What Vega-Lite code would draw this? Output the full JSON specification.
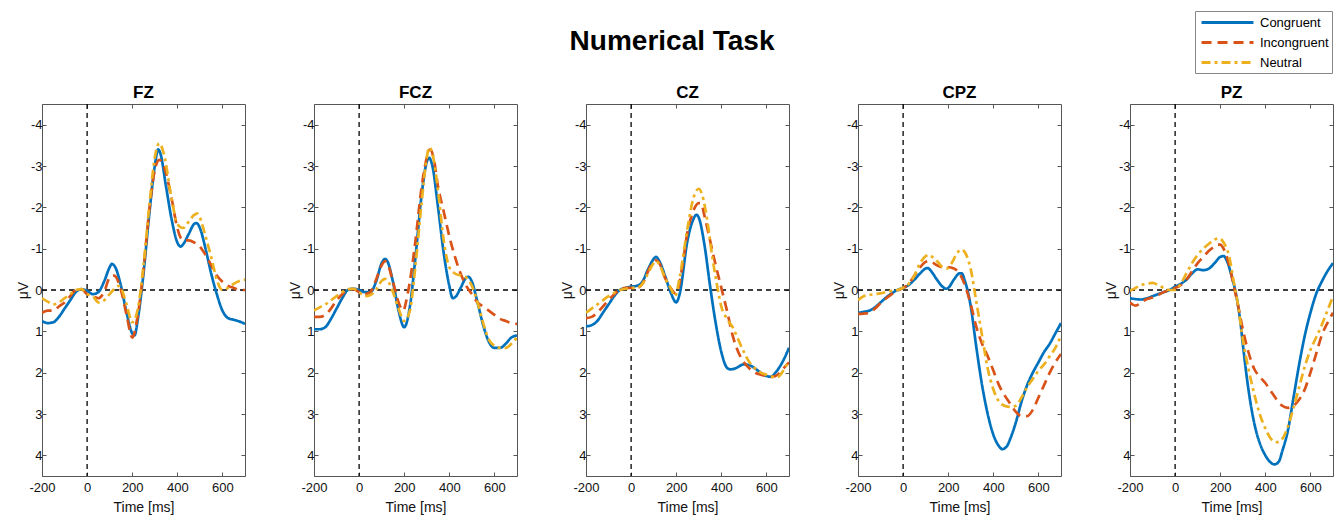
{
  "$schema": "https://vega.github.io/schema/vega-lite/v6.json",
  "padding": {"left": 15, "top": 10, "right": 0, "bottom": 2},
  "autosize": {"type": "pad"},
  "background": "white",
  "title": {"text": "Numerical Task", "fontSize": 28, "font": "Liberation Sans", "fontWeight": "bold", "anchor": "middle", "color": "#000", "offset": -45, "dx": -3},
  "datasets": {
    "erp": [
      {"ch":"FZ","c":"Congruent","t":-200,"v":0.75},{"ch":"FZ","c":"Congruent","t":-175,"v":0.8},{"ch":"FZ","c":"Congruent","t":-150,"v":0.78},{"ch":"FZ","c":"Congruent","t":-125,"v":0.65},{"ch":"FZ","c":"Congruent","t":-100,"v":0.45},{"ch":"FZ","c":"Congruent","t":-75,"v":0.25},{"ch":"FZ","c":"Congruent","t":-50,"v":0.05},{"ch":"FZ","c":"Congruent","t":-25,"v":-0.02},{"ch":"FZ","c":"Congruent","t":0,"v":0.02},{"ch":"FZ","c":"Congruent","t":25,"v":0.1},{"ch":"FZ","c":"Congruent","t":50,"v":0.05},{"ch":"FZ","c":"Congruent","t":75,"v":-0.2},{"ch":"FZ","c":"Congruent","t":100,"v":-0.55},{"ch":"FZ","c":"Congruent","t":110,"v":-0.63},{"ch":"FZ","c":"Congruent","t":125,"v":-0.55},{"ch":"FZ","c":"Congruent","t":150,"v":-0.1},{"ch":"FZ","c":"Congruent","t":175,"v":0.55},{"ch":"FZ","c":"Congruent","t":200,"v":1.05},{"ch":"FZ","c":"Congruent","t":210,"v":1.1},{"ch":"FZ","c":"Congruent","t":225,"v":0.7},{"ch":"FZ","c":"Congruent","t":250,"v":-0.4},{"ch":"FZ","c":"Congruent","t":275,"v":-1.8},{"ch":"FZ","c":"Congruent","t":300,"v":-3.0},{"ch":"FZ","c":"Congruent","t":315,"v":-3.4},{"ch":"FZ","c":"Congruent","t":325,"v":-3.3},{"ch":"FZ","c":"Congruent","t":350,"v":-2.5},{"ch":"FZ","c":"Congruent","t":375,"v":-1.7},{"ch":"FZ","c":"Congruent","t":400,"v":-1.15},{"ch":"FZ","c":"Congruent","t":415,"v":-1.05},{"ch":"FZ","c":"Congruent","t":425,"v":-1.1},{"ch":"FZ","c":"Congruent","t":450,"v":-1.35},{"ch":"FZ","c":"Congruent","t":475,"v":-1.6},{"ch":"FZ","c":"Congruent","t":485,"v":-1.62},{"ch":"FZ","c":"Congruent","t":500,"v":-1.5},{"ch":"FZ","c":"Congruent","t":525,"v":-1.0},{"ch":"FZ","c":"Congruent","t":550,"v":-0.4},{"ch":"FZ","c":"Congruent","t":575,"v":0.1},{"ch":"FZ","c":"Congruent","t":600,"v":0.5},{"ch":"FZ","c":"Congruent","t":625,"v":0.68},{"ch":"FZ","c":"Congruent","t":650,"v":0.72},{"ch":"FZ","c":"Congruent","t":675,"v":0.76},{"ch":"FZ","c":"Congruent","t":700,"v":0.82},
      {"ch":"FZ","c":"Incongruent","t":-200,"v":0.55},{"ch":"FZ","c":"Incongruent","t":-175,"v":0.5},{"ch":"FZ","c":"Incongruent","t":-150,"v":0.5},{"ch":"FZ","c":"Incongruent","t":-125,"v":0.4},{"ch":"FZ","c":"Incongruent","t":-100,"v":0.3},{"ch":"FZ","c":"Incongruent","t":-75,"v":0.15},{"ch":"FZ","c":"Incongruent","t":-50,"v":0.0},{"ch":"FZ","c":"Incongruent","t":-25,"v":-0.02},{"ch":"FZ","c":"Incongruent","t":0,"v":0.1},{"ch":"FZ","c":"Incongruent","t":25,"v":0.15},{"ch":"FZ","c":"Incongruent","t":50,"v":0.2},{"ch":"FZ","c":"Incongruent","t":75,"v":0.05},{"ch":"FZ","c":"Incongruent","t":100,"v":-0.3},{"ch":"FZ","c":"Incongruent","t":120,"v":-0.35},{"ch":"FZ","c":"Incongruent","t":150,"v":0.0},{"ch":"FZ","c":"Incongruent","t":175,"v":0.6},{"ch":"FZ","c":"Incongruent","t":200,"v":1.15},{"ch":"FZ","c":"Incongruent","t":225,"v":0.6},{"ch":"FZ","c":"Incongruent","t":250,"v":-0.5},{"ch":"FZ","c":"Incongruent","t":275,"v":-1.9},{"ch":"FZ","c":"Incongruent","t":300,"v":-2.9},{"ch":"FZ","c":"Incongruent","t":320,"v":-3.15},{"ch":"FZ","c":"Incongruent","t":340,"v":-3.0},{"ch":"FZ","c":"Incongruent","t":375,"v":-2.2},{"ch":"FZ","c":"Incongruent","t":400,"v":-1.5},{"ch":"FZ","c":"Incongruent","t":425,"v":-1.2},{"ch":"FZ","c":"Incongruent","t":450,"v":-1.2},{"ch":"FZ","c":"Incongruent","t":475,"v":-1.15},{"ch":"FZ","c":"Incongruent","t":500,"v":-1.05},{"ch":"FZ","c":"Incongruent","t":525,"v":-0.85},{"ch":"FZ","c":"Incongruent","t":550,"v":-0.6},{"ch":"FZ","c":"Incongruent","t":575,"v":-0.35},{"ch":"FZ","c":"Incongruent","t":600,"v":-0.2},{"ch":"FZ","c":"Incongruent","t":625,"v":-0.1},{"ch":"FZ","c":"Incongruent","t":650,"v":-0.05},{"ch":"FZ","c":"Incongruent","t":675,"v":0.0},{"ch":"FZ","c":"Incongruent","t":700,"v":0.0},
      {"ch":"FZ","c":"Neutral","t":-200,"v":0.2},{"ch":"FZ","c":"Neutral","t":-175,"v":0.28},{"ch":"FZ","c":"Neutral","t":-150,"v":0.35},{"ch":"FZ","c":"Neutral","t":-125,"v":0.3},{"ch":"FZ","c":"Neutral","t":-100,"v":0.2},{"ch":"FZ","c":"Neutral","t":-75,"v":0.1},{"ch":"FZ","c":"Neutral","t":-50,"v":0.0},{"ch":"FZ","c":"Neutral","t":-25,"v":-0.02},{"ch":"FZ","c":"Neutral","t":0,"v":0.1},{"ch":"FZ","c":"Neutral","t":25,"v":0.15},{"ch":"FZ","c":"Neutral","t":50,"v":0.3},{"ch":"FZ","c":"Neutral","t":75,"v":0.25},{"ch":"FZ","c":"Neutral","t":100,"v":0.1},{"ch":"FZ","c":"Neutral","t":125,"v":-0.05},{"ch":"FZ","c":"Neutral","t":140,"v":-0.1},{"ch":"FZ","c":"Neutral","t":150,"v":-0.05},{"ch":"FZ","c":"Neutral","t":175,"v":0.35},{"ch":"FZ","c":"Neutral","t":200,"v":0.78},{"ch":"FZ","c":"Neutral","t":225,"v":0.45},{"ch":"FZ","c":"Neutral","t":250,"v":-0.6},{"ch":"FZ","c":"Neutral","t":275,"v":-2.0},{"ch":"FZ","c":"Neutral","t":300,"v":-3.2},{"ch":"FZ","c":"Neutral","t":320,"v":-3.55},{"ch":"FZ","c":"Neutral","t":340,"v":-3.3},{"ch":"FZ","c":"Neutral","t":375,"v":-2.2},{"ch":"FZ","c":"Neutral","t":400,"v":-1.6},{"ch":"FZ","c":"Neutral","t":425,"v":-1.5},{"ch":"FZ","c":"Neutral","t":450,"v":-1.65},{"ch":"FZ","c":"Neutral","t":475,"v":-1.82},{"ch":"FZ","c":"Neutral","t":490,"v":-1.85},{"ch":"FZ","c":"Neutral","t":500,"v":-1.75},{"ch":"FZ","c":"Neutral","t":525,"v":-1.3},{"ch":"FZ","c":"Neutral","t":550,"v":-0.8},{"ch":"FZ","c":"Neutral","t":575,"v":-0.25},{"ch":"FZ","c":"Neutral","t":600,"v":0.0},{"ch":"FZ","c":"Neutral","t":625,"v":-0.05},{"ch":"FZ","c":"Neutral","t":650,"v":-0.15},{"ch":"FZ","c":"Neutral","t":675,"v":-0.22},{"ch":"FZ","c":"Neutral","t":700,"v":-0.25},
      {"ch":"FCZ","c":"Congruent","t":-200,"v":0.95},{"ch":"FCZ","c":"Congruent","t":-175,"v":0.95},{"ch":"FCZ","c":"Congruent","t":-150,"v":0.9},{"ch":"FCZ","c":"Congruent","t":-125,"v":0.7},{"ch":"FCZ","c":"Congruent","t":-100,"v":0.45},{"ch":"FCZ","c":"Congruent","t":-75,"v":0.2},{"ch":"FCZ","c":"Congruent","t":-50,"v":0.0},{"ch":"FCZ","c":"Congruent","t":-25,"v":-0.03},{"ch":"FCZ","c":"Congruent","t":0,"v":0.0},{"ch":"FCZ","c":"Congruent","t":25,"v":0.05},{"ch":"FCZ","c":"Congruent","t":50,"v":0.05},{"ch":"FCZ","c":"Congruent","t":75,"v":-0.2},{"ch":"FCZ","c":"Congruent","t":100,"v":-0.65},{"ch":"FCZ","c":"Congruent","t":115,"v":-0.75},{"ch":"FCZ","c":"Congruent","t":125,"v":-0.7},{"ch":"FCZ","c":"Congruent","t":150,"v":-0.2},{"ch":"FCZ","c":"Congruent","t":175,"v":0.5},{"ch":"FCZ","c":"Congruent","t":200,"v":0.9},{"ch":"FCZ","c":"Congruent","t":225,"v":0.4},{"ch":"FCZ","c":"Congruent","t":250,"v":-0.8},{"ch":"FCZ","c":"Congruent","t":275,"v":-2.2},{"ch":"FCZ","c":"Congruent","t":300,"v":-3.1},{"ch":"FCZ","c":"Congruent","t":310,"v":-3.2},{"ch":"FCZ","c":"Congruent","t":325,"v":-3.0},{"ch":"FCZ","c":"Congruent","t":350,"v":-2.0},{"ch":"FCZ","c":"Congruent","t":375,"v":-0.9},{"ch":"FCZ","c":"Congruent","t":400,"v":-0.1},{"ch":"FCZ","c":"Congruent","t":415,"v":0.2},{"ch":"FCZ","c":"Congruent","t":430,"v":0.15},{"ch":"FCZ","c":"Congruent","t":450,"v":-0.05},{"ch":"FCZ","c":"Congruent","t":475,"v":-0.3},{"ch":"FCZ","c":"Congruent","t":485,"v":-0.32},{"ch":"FCZ","c":"Congruent","t":500,"v":-0.2},{"ch":"FCZ","c":"Congruent","t":525,"v":0.3},{"ch":"FCZ","c":"Congruent","t":550,"v":0.85},{"ch":"FCZ","c":"Congruent","t":575,"v":1.25},{"ch":"FCZ","c":"Congruent","t":600,"v":1.4},{"ch":"FCZ","c":"Congruent","t":625,"v":1.4},{"ch":"FCZ","c":"Congruent","t":650,"v":1.3},{"ch":"FCZ","c":"Congruent","t":675,"v":1.15},{"ch":"FCZ","c":"Congruent","t":700,"v":1.1},
      {"ch":"FCZ","c":"Incongruent","t":-200,"v":0.65},{"ch":"FCZ","c":"Incongruent","t":-175,"v":0.65},{"ch":"FCZ","c":"Incongruent","t":-150,"v":0.6},{"ch":"FCZ","c":"Incongruent","t":-125,"v":0.45},{"ch":"FCZ","c":"Incongruent","t":-100,"v":0.25},{"ch":"FCZ","c":"Incongruent","t":-75,"v":0.1},{"ch":"FCZ","c":"Incongruent","t":-50,"v":0.0},{"ch":"FCZ","c":"Incongruent","t":-25,"v":-0.02},{"ch":"FCZ","c":"Incongruent","t":0,"v":0.05},{"ch":"FCZ","c":"Incongruent","t":25,"v":0.1},{"ch":"FCZ","c":"Incongruent","t":50,"v":0.05},{"ch":"FCZ","c":"Incongruent","t":75,"v":-0.25},{"ch":"FCZ","c":"Incongruent","t":100,"v":-0.6},{"ch":"FCZ","c":"Incongruent","t":115,"v":-0.7},{"ch":"FCZ","c":"Incongruent","t":125,"v":-0.65},{"ch":"FCZ","c":"Incongruent","t":150,"v":-0.2},{"ch":"FCZ","c":"Incongruent","t":175,"v":0.3},{"ch":"FCZ","c":"Incongruent","t":195,"v":0.5},{"ch":"FCZ","c":"Incongruent","t":215,"v":0.1},{"ch":"FCZ","c":"Incongruent","t":250,"v":-1.2},{"ch":"FCZ","c":"Incongruent","t":275,"v":-2.4},{"ch":"FCZ","c":"Incongruent","t":300,"v":-3.2},{"ch":"FCZ","c":"Incongruent","t":315,"v":-3.4},{"ch":"FCZ","c":"Incongruent","t":330,"v":-3.2},{"ch":"FCZ","c":"Incongruent","t":350,"v":-2.5},{"ch":"FCZ","c":"Incongruent","t":375,"v":-1.9},{"ch":"FCZ","c":"Incongruent","t":400,"v":-1.3},{"ch":"FCZ","c":"Incongruent","t":425,"v":-0.8},{"ch":"FCZ","c":"Incongruent","t":450,"v":-0.4},{"ch":"FCZ","c":"Incongruent","t":475,"v":-0.1},{"ch":"FCZ","c":"Incongruent","t":500,"v":0.1},{"ch":"FCZ","c":"Incongruent","t":525,"v":0.3},{"ch":"FCZ","c":"Incongruent","t":550,"v":0.4},{"ch":"FCZ","c":"Incongruent","t":575,"v":0.5},{"ch":"FCZ","c":"Incongruent","t":600,"v":0.6},{"ch":"FCZ","c":"Incongruent","t":625,"v":0.7},{"ch":"FCZ","c":"Incongruent","t":650,"v":0.75},{"ch":"FCZ","c":"Incongruent","t":675,"v":0.8},{"ch":"FCZ","c":"Incongruent","t":700,"v":0.82},
      {"ch":"FCZ","c":"Neutral","t":-200,"v":0.5},{"ch":"FCZ","c":"Neutral","t":-175,"v":0.42},{"ch":"FCZ","c":"Neutral","t":-150,"v":0.35},{"ch":"FCZ","c":"Neutral","t":-125,"v":0.25},{"ch":"FCZ","c":"Neutral","t":-100,"v":0.15},{"ch":"FCZ","c":"Neutral","t":-75,"v":0.05},{"ch":"FCZ","c":"Neutral","t":-50,"v":-0.02},{"ch":"FCZ","c":"Neutral","t":-25,"v":-0.03},{"ch":"FCZ","c":"Neutral","t":0,"v":0.05},{"ch":"FCZ","c":"Neutral","t":25,"v":0.15},{"ch":"FCZ","c":"Neutral","t":50,"v":0.12},{"ch":"FCZ","c":"Neutral","t":75,"v":0.0},{"ch":"FCZ","c":"Neutral","t":100,"v":-0.22},{"ch":"FCZ","c":"Neutral","t":115,"v":-0.27},{"ch":"FCZ","c":"Neutral","t":130,"v":-0.2},{"ch":"FCZ","c":"Neutral","t":150,"v":0.05},{"ch":"FCZ","c":"Neutral","t":175,"v":0.45},{"ch":"FCZ","c":"Neutral","t":200,"v":0.75},{"ch":"FCZ","c":"Neutral","t":225,"v":0.5},{"ch":"FCZ","c":"Neutral","t":250,"v":-0.6},{"ch":"FCZ","c":"Neutral","t":275,"v":-2.0},{"ch":"FCZ","c":"Neutral","t":300,"v":-3.2},{"ch":"FCZ","c":"Neutral","t":310,"v":-3.45},{"ch":"FCZ","c":"Neutral","t":325,"v":-3.3},{"ch":"FCZ","c":"Neutral","t":350,"v":-2.4},{"ch":"FCZ","c":"Neutral","t":375,"v":-1.2},{"ch":"FCZ","c":"Neutral","t":400,"v":-0.55},{"ch":"FCZ","c":"Neutral","t":425,"v":-0.4},{"ch":"FCZ","c":"Neutral","t":450,"v":-0.35},{"ch":"FCZ","c":"Neutral","t":475,"v":-0.3},{"ch":"FCZ","c":"Neutral","t":500,"v":-0.1},{"ch":"FCZ","c":"Neutral","t":525,"v":0.3},{"ch":"FCZ","c":"Neutral","t":550,"v":0.8},{"ch":"FCZ","c":"Neutral","t":575,"v":1.2},{"ch":"FCZ","c":"Neutral","t":600,"v":1.35},{"ch":"FCZ","c":"Neutral","t":625,"v":1.4},{"ch":"FCZ","c":"Neutral","t":650,"v":1.4},{"ch":"FCZ","c":"Neutral","t":675,"v":1.3},{"ch":"FCZ","c":"Neutral","t":700,"v":1.15},
      {"ch":"CZ","c":"Congruent","t":-200,"v":0.88},{"ch":"CZ","c":"Congruent","t":-175,"v":0.85},{"ch":"CZ","c":"Congruent","t":-150,"v":0.75},{"ch":"CZ","c":"Congruent","t":-125,"v":0.55},{"ch":"CZ","c":"Congruent","t":-100,"v":0.35},{"ch":"CZ","c":"Congruent","t":-75,"v":0.15},{"ch":"CZ","c":"Congruent","t":-50,"v":0.0},{"ch":"CZ","c":"Congruent","t":-25,"v":-0.05},{"ch":"CZ","c":"Congruent","t":0,"v":-0.08},{"ch":"CZ","c":"Congruent","t":25,"v":-0.1},{"ch":"CZ","c":"Congruent","t":50,"v":-0.2},{"ch":"CZ","c":"Congruent","t":75,"v":-0.5},{"ch":"CZ","c":"Congruent","t":100,"v":-0.75},{"ch":"CZ","c":"Congruent","t":110,"v":-0.8},{"ch":"CZ","c":"Congruent","t":125,"v":-0.7},{"ch":"CZ","c":"Congruent","t":150,"v":-0.35},{"ch":"CZ","c":"Congruent","t":175,"v":0.05},{"ch":"CZ","c":"Congruent","t":200,"v":0.3},{"ch":"CZ","c":"Congruent","t":215,"v":0.1},{"ch":"CZ","c":"Congruent","t":250,"v":-1.2},{"ch":"CZ","c":"Congruent","t":275,"v":-1.7},{"ch":"CZ","c":"Congruent","t":290,"v":-1.82},{"ch":"CZ","c":"Congruent","t":300,"v":-1.75},{"ch":"CZ","c":"Congruent","t":325,"v":-1.1},{"ch":"CZ","c":"Congruent","t":350,"v":-0.1},{"ch":"CZ","c":"Congruent","t":375,"v":0.8},{"ch":"CZ","c":"Congruent","t":400,"v":1.5},{"ch":"CZ","c":"Congruent","t":425,"v":1.88},{"ch":"CZ","c":"Congruent","t":440,"v":1.92},{"ch":"CZ","c":"Congruent","t":460,"v":1.9},{"ch":"CZ","c":"Congruent","t":500,"v":1.8},{"ch":"CZ","c":"Congruent","t":525,"v":1.82},{"ch":"CZ","c":"Congruent","t":550,"v":1.9},{"ch":"CZ","c":"Congruent","t":575,"v":2.0},{"ch":"CZ","c":"Congruent","t":600,"v":2.08},{"ch":"CZ","c":"Congruent","t":620,"v":2.1},{"ch":"CZ","c":"Congruent","t":640,"v":2.0},{"ch":"CZ","c":"Congruent","t":675,"v":1.7},{"ch":"CZ","c":"Congruent","t":700,"v":1.4},
      {"ch":"CZ","c":"Incongruent","t":-200,"v":0.68},{"ch":"CZ","c":"Incongruent","t":-175,"v":0.65},{"ch":"CZ","c":"Incongruent","t":-150,"v":0.55},{"ch":"CZ","c":"Incongruent","t":-125,"v":0.4},{"ch":"CZ","c":"Incongruent","t":-100,"v":0.25},{"ch":"CZ","c":"Incongruent","t":-75,"v":0.1},{"ch":"CZ","c":"Incongruent","t":-50,"v":0.0},{"ch":"CZ","c":"Incongruent","t":-25,"v":-0.05},{"ch":"CZ","c":"Incongruent","t":0,"v":-0.05},{"ch":"CZ","c":"Incongruent","t":25,"v":-0.05},{"ch":"CZ","c":"Incongruent","t":50,"v":-0.15},{"ch":"CZ","c":"Incongruent","t":75,"v":-0.45},{"ch":"CZ","c":"Incongruent","t":100,"v":-0.7},{"ch":"CZ","c":"Incongruent","t":110,"v":-0.72},{"ch":"CZ","c":"Incongruent","t":125,"v":-0.65},{"ch":"CZ","c":"Incongruent","t":150,"v":-0.3},{"ch":"CZ","c":"Incongruent","t":175,"v":-0.05},{"ch":"CZ","c":"Incongruent","t":200,"v":0.1},{"ch":"CZ","c":"Incongruent","t":225,"v":-0.5},{"ch":"CZ","c":"Incongruent","t":250,"v":-1.4},{"ch":"CZ","c":"Incongruent","t":275,"v":-1.9},{"ch":"CZ","c":"Incongruent","t":300,"v":-2.1},{"ch":"CZ","c":"Incongruent","t":310,"v":-2.1},{"ch":"CZ","c":"Incongruent","t":325,"v":-1.8},{"ch":"CZ","c":"Incongruent","t":350,"v":-1.2},{"ch":"CZ","c":"Incongruent","t":375,"v":-0.6},{"ch":"CZ","c":"Incongruent","t":400,"v":-0.05},{"ch":"CZ","c":"Incongruent","t":425,"v":0.5},{"ch":"CZ","c":"Incongruent","t":450,"v":1.1},{"ch":"CZ","c":"Incongruent","t":475,"v":1.5},{"ch":"CZ","c":"Incongruent","t":500,"v":1.75},{"ch":"CZ","c":"Incongruent","t":525,"v":1.9},{"ch":"CZ","c":"Incongruent","t":550,"v":2.0},{"ch":"CZ","c":"Incongruent","t":575,"v":2.05},{"ch":"CZ","c":"Incongruent","t":600,"v":2.08},{"ch":"CZ","c":"Incongruent","t":625,"v":2.1},{"ch":"CZ","c":"Incongruent","t":650,"v":2.05},{"ch":"CZ","c":"Incongruent","t":675,"v":1.9},{"ch":"CZ","c":"Incongruent","t":700,"v":1.75},
      {"ch":"CZ","c":"Neutral","t":-200,"v":0.55},{"ch":"CZ","c":"Neutral","t":-175,"v":0.45},{"ch":"CZ","c":"Neutral","t":-150,"v":0.35},{"ch":"CZ","c":"Neutral","t":-125,"v":0.25},{"ch":"CZ","c":"Neutral","t":-100,"v":0.15},{"ch":"CZ","c":"Neutral","t":-75,"v":0.07},{"ch":"CZ","c":"Neutral","t":-50,"v":0.0},{"ch":"CZ","c":"Neutral","t":-25,"v":-0.03},{"ch":"CZ","c":"Neutral","t":0,"v":-0.05},{"ch":"CZ","c":"Neutral","t":25,"v":-0.05},{"ch":"CZ","c":"Neutral","t":50,"v":-0.15},{"ch":"CZ","c":"Neutral","t":75,"v":-0.4},{"ch":"CZ","c":"Neutral","t":100,"v":-0.65},{"ch":"CZ","c":"Neutral","t":110,"v":-0.7},{"ch":"CZ","c":"Neutral","t":125,"v":-0.62},{"ch":"CZ","c":"Neutral","t":150,"v":-0.3},{"ch":"CZ","c":"Neutral","t":175,"v":-0.05},{"ch":"CZ","c":"Neutral","t":195,"v":0.15},{"ch":"CZ","c":"Neutral","t":215,"v":-0.3},{"ch":"CZ","c":"Neutral","t":250,"v":-1.5},{"ch":"CZ","c":"Neutral","t":275,"v":-2.2},{"ch":"CZ","c":"Neutral","t":300,"v":-2.45},{"ch":"CZ","c":"Neutral","t":315,"v":-2.3},{"ch":"CZ","c":"Neutral","t":340,"v":-1.6},{"ch":"CZ","c":"Neutral","t":360,"v":-0.8},{"ch":"CZ","c":"Neutral","t":375,"v":-0.3},{"ch":"CZ","c":"Neutral","t":400,"v":0.4},{"ch":"CZ","c":"Neutral","t":425,"v":0.7},{"ch":"CZ","c":"Neutral","t":450,"v":0.9},{"ch":"CZ","c":"Neutral","t":475,"v":1.2},{"ch":"CZ","c":"Neutral","t":500,"v":1.5},{"ch":"CZ","c":"Neutral","t":525,"v":1.75},{"ch":"CZ","c":"Neutral","t":550,"v":1.9},{"ch":"CZ","c":"Neutral","t":575,"v":2.0},{"ch":"CZ","c":"Neutral","t":600,"v":2.05},{"ch":"CZ","c":"Neutral","t":625,"v":2.1},{"ch":"CZ","c":"Neutral","t":650,"v":2.1},{"ch":"CZ","c":"Neutral","t":675,"v":1.95},{"ch":"CZ","c":"Neutral","t":700,"v":1.7},
      {"ch":"CPZ","c":"Congruent","t":-200,"v":0.55},{"ch":"CPZ","c":"Congruent","t":-175,"v":0.53},{"ch":"CPZ","c":"Congruent","t":-150,"v":0.5},{"ch":"CPZ","c":"Congruent","t":-125,"v":0.42},{"ch":"CPZ","c":"Congruent","t":-100,"v":0.3},{"ch":"CPZ","c":"Congruent","t":-75,"v":0.18},{"ch":"CPZ","c":"Congruent","t":-50,"v":0.08},{"ch":"CPZ","c":"Congruent","t":-25,"v":0.0},{"ch":"CPZ","c":"Congruent","t":0,"v":-0.05},{"ch":"CPZ","c":"Congruent","t":25,"v":-0.12},{"ch":"CPZ","c":"Congruent","t":50,"v":-0.25},{"ch":"CPZ","c":"Congruent","t":75,"v":-0.4},{"ch":"CPZ","c":"Congruent","t":100,"v":-0.52},{"ch":"CPZ","c":"Congruent","t":110,"v":-0.53},{"ch":"CPZ","c":"Congruent","t":125,"v":-0.45},{"ch":"CPZ","c":"Congruent","t":150,"v":-0.25},{"ch":"CPZ","c":"Congruent","t":175,"v":-0.08},{"ch":"CPZ","c":"Congruent","t":190,"v":-0.03},{"ch":"CPZ","c":"Congruent","t":200,"v":-0.05},{"ch":"CPZ","c":"Congruent","t":225,"v":-0.25},{"ch":"CPZ","c":"Congruent","t":250,"v":-0.4},{"ch":"CPZ","c":"Congruent","t":260,"v":-0.4},{"ch":"CPZ","c":"Congruent","t":275,"v":-0.2},{"ch":"CPZ","c":"Congruent","t":300,"v":0.4},{"ch":"CPZ","c":"Congruent","t":325,"v":1.4},{"ch":"CPZ","c":"Congruent","t":350,"v":2.3},{"ch":"CPZ","c":"Congruent","t":375,"v":3.0},{"ch":"CPZ","c":"Congruent","t":400,"v":3.5},{"ch":"CPZ","c":"Congruent","t":425,"v":3.78},{"ch":"CPZ","c":"Congruent","t":440,"v":3.85},{"ch":"CPZ","c":"Congruent","t":460,"v":3.78},{"ch":"CPZ","c":"Congruent","t":475,"v":3.6},{"ch":"CPZ","c":"Congruent","t":500,"v":3.2},{"ch":"CPZ","c":"Congruent","t":525,"v":2.7},{"ch":"CPZ","c":"Congruent","t":550,"v":2.3},{"ch":"CPZ","c":"Congruent","t":575,"v":2.0},{"ch":"CPZ","c":"Congruent","t":600,"v":1.75},{"ch":"CPZ","c":"Congruent","t":625,"v":1.5},{"ch":"CPZ","c":"Congruent","t":650,"v":1.3},{"ch":"CPZ","c":"Congruent","t":675,"v":1.05},{"ch":"CPZ","c":"Congruent","t":700,"v":0.8},
      {"ch":"CPZ","c":"Incongruent","t":-200,"v":0.58},{"ch":"CPZ","c":"Incongruent","t":-175,"v":0.57},{"ch":"CPZ","c":"Incongruent","t":-150,"v":0.55},{"ch":"CPZ","c":"Incongruent","t":-125,"v":0.45},{"ch":"CPZ","c":"Incongruent","t":-100,"v":0.32},{"ch":"CPZ","c":"Incongruent","t":-75,"v":0.2},{"ch":"CPZ","c":"Incongruent","t":-50,"v":0.1},{"ch":"CPZ","c":"Incongruent","t":-25,"v":0.02},{"ch":"CPZ","c":"Incongruent","t":0,"v":-0.05},{"ch":"CPZ","c":"Incongruent","t":25,"v":-0.15},{"ch":"CPZ","c":"Incongruent","t":50,"v":-0.35},{"ch":"CPZ","c":"Incongruent","t":75,"v":-0.55},{"ch":"CPZ","c":"Incongruent","t":100,"v":-0.68},{"ch":"CPZ","c":"Incongruent","t":115,"v":-0.7},{"ch":"CPZ","c":"Incongruent","t":125,"v":-0.68},{"ch":"CPZ","c":"Incongruent","t":150,"v":-0.6},{"ch":"CPZ","c":"Incongruent","t":175,"v":-0.55},{"ch":"CPZ","c":"Incongruent","t":200,"v":-0.55},{"ch":"CPZ","c":"Incongruent","t":225,"v":-0.52},{"ch":"CPZ","c":"Incongruent","t":250,"v":-0.4},{"ch":"CPZ","c":"Incongruent","t":275,"v":-0.1},{"ch":"CPZ","c":"Incongruent","t":300,"v":0.35},{"ch":"CPZ","c":"Incongruent","t":325,"v":0.9},{"ch":"CPZ","c":"Incongruent","t":350,"v":1.3},{"ch":"CPZ","c":"Incongruent","t":375,"v":1.6},{"ch":"CPZ","c":"Incongruent","t":400,"v":1.95},{"ch":"CPZ","c":"Incongruent","t":425,"v":2.3},{"ch":"CPZ","c":"Incongruent","t":450,"v":2.55},{"ch":"CPZ","c":"Incongruent","t":475,"v":2.75},{"ch":"CPZ","c":"Incongruent","t":500,"v":2.95},{"ch":"CPZ","c":"Incongruent","t":525,"v":3.05},{"ch":"CPZ","c":"Incongruent","t":550,"v":3.05},{"ch":"CPZ","c":"Incongruent","t":575,"v":2.9},{"ch":"CPZ","c":"Incongruent","t":600,"v":2.6},{"ch":"CPZ","c":"Incongruent","t":625,"v":2.3},{"ch":"CPZ","c":"Incongruent","t":650,"v":2.0},{"ch":"CPZ","c":"Incongruent","t":675,"v":1.75},{"ch":"CPZ","c":"Incongruent","t":700,"v":1.55},
      {"ch":"CPZ","c":"Neutral","t":-200,"v":0.25},{"ch":"CPZ","c":"Neutral","t":-175,"v":0.15},{"ch":"CPZ","c":"Neutral","t":-150,"v":0.12},{"ch":"CPZ","c":"Neutral","t":-125,"v":0.1},{"ch":"CPZ","c":"Neutral","t":-100,"v":0.08},{"ch":"CPZ","c":"Neutral","t":-75,"v":0.05},{"ch":"CPZ","c":"Neutral","t":-50,"v":0.02},{"ch":"CPZ","c":"Neutral","t":-25,"v":0.0},{"ch":"CPZ","c":"Neutral","t":0,"v":-0.05},{"ch":"CPZ","c":"Neutral","t":25,"v":-0.15},{"ch":"CPZ","c":"Neutral","t":50,"v":-0.35},{"ch":"CPZ","c":"Neutral","t":75,"v":-0.65},{"ch":"CPZ","c":"Neutral","t":100,"v":-0.82},{"ch":"CPZ","c":"Neutral","t":115,"v":-0.85},{"ch":"CPZ","c":"Neutral","t":125,"v":-0.82},{"ch":"CPZ","c":"Neutral","t":150,"v":-0.7},{"ch":"CPZ","c":"Neutral","t":175,"v":-0.55},{"ch":"CPZ","c":"Neutral","t":195,"v":-0.52},{"ch":"CPZ","c":"Neutral","t":215,"v":-0.65},{"ch":"CPZ","c":"Neutral","t":240,"v":-0.9},{"ch":"CPZ","c":"Neutral","t":260,"v":-0.98},{"ch":"CPZ","c":"Neutral","t":275,"v":-0.9},{"ch":"CPZ","c":"Neutral","t":300,"v":-0.5},{"ch":"CPZ","c":"Neutral","t":325,"v":0.3},{"ch":"CPZ","c":"Neutral","t":350,"v":1.1},{"ch":"CPZ","c":"Neutral","t":375,"v":1.9},{"ch":"CPZ","c":"Neutral","t":400,"v":2.4},{"ch":"CPZ","c":"Neutral","t":425,"v":2.7},{"ch":"CPZ","c":"Neutral","t":450,"v":2.8},{"ch":"CPZ","c":"Neutral","t":475,"v":2.83},{"ch":"CPZ","c":"Neutral","t":500,"v":2.8},{"ch":"CPZ","c":"Neutral","t":525,"v":2.6},{"ch":"CPZ","c":"Neutral","t":550,"v":2.35},{"ch":"CPZ","c":"Neutral","t":575,"v":2.15},{"ch":"CPZ","c":"Neutral","t":600,"v":1.95},{"ch":"CPZ","c":"Neutral","t":625,"v":1.8},{"ch":"CPZ","c":"Neutral","t":650,"v":1.6},{"ch":"CPZ","c":"Neutral","t":675,"v":1.4},{"ch":"CPZ","c":"Neutral","t":700,"v":1.1},
      {"ch":"PZ","c":"Congruent","t":-200,"v":0.2},{"ch":"PZ","c":"Congruent","t":-175,"v":0.22},{"ch":"PZ","c":"Congruent","t":-150,"v":0.23},{"ch":"PZ","c":"Congruent","t":-125,"v":0.2},{"ch":"PZ","c":"Congruent","t":-100,"v":0.15},{"ch":"PZ","c":"Congruent","t":-75,"v":0.1},{"ch":"PZ","c":"Congruent","t":-50,"v":0.05},{"ch":"PZ","c":"Congruent","t":-25,"v":0.0},{"ch":"PZ","c":"Congruent","t":0,"v":-0.08},{"ch":"PZ","c":"Congruent","t":25,"v":-0.15},{"ch":"PZ","c":"Congruent","t":50,"v":-0.25},{"ch":"PZ","c":"Congruent","t":75,"v":-0.4},{"ch":"PZ","c":"Congruent","t":100,"v":-0.5},{"ch":"PZ","c":"Congruent","t":125,"v":-0.48},{"ch":"PZ","c":"Congruent","t":150,"v":-0.52},{"ch":"PZ","c":"Congruent","t":175,"v":-0.65},{"ch":"PZ","c":"Congruent","t":200,"v":-0.8},{"ch":"PZ","c":"Congruent","t":215,"v":-0.82},{"ch":"PZ","c":"Congruent","t":230,"v":-0.7},{"ch":"PZ","c":"Congruent","t":250,"v":-0.35},{"ch":"PZ","c":"Congruent","t":270,"v":0.1},{"ch":"PZ","c":"Congruent","t":290,"v":0.8},{"ch":"PZ","c":"Congruent","t":300,"v":1.3},{"ch":"PZ","c":"Congruent","t":325,"v":2.4},{"ch":"PZ","c":"Congruent","t":350,"v":3.2},{"ch":"PZ","c":"Congruent","t":375,"v":3.7},{"ch":"PZ","c":"Congruent","t":400,"v":4.0},{"ch":"PZ","c":"Congruent","t":425,"v":4.18},{"ch":"PZ","c":"Congruent","t":440,"v":4.22},{"ch":"PZ","c":"Congruent","t":460,"v":4.15},{"ch":"PZ","c":"Congruent","t":475,"v":3.9},{"ch":"PZ","c":"Congruent","t":500,"v":3.4},{"ch":"PZ","c":"Congruent","t":525,"v":2.6},{"ch":"PZ","c":"Congruent","t":550,"v":1.8},{"ch":"PZ","c":"Congruent","t":575,"v":1.1},{"ch":"PZ","c":"Congruent","t":600,"v":0.55},{"ch":"PZ","c":"Congruent","t":625,"v":0.1},{"ch":"PZ","c":"Congruent","t":650,"v":-0.2},{"ch":"PZ","c":"Congruent","t":675,"v":-0.45},{"ch":"PZ","c":"Congruent","t":700,"v":-0.65},
      {"ch":"PZ","c":"Incongruent","t":-200,"v":0.3},{"ch":"PZ","c":"Incongruent","t":-175,"v":0.38},{"ch":"PZ","c":"Incongruent","t":-150,"v":0.3},{"ch":"PZ","c":"Incongruent","t":-125,"v":0.22},{"ch":"PZ","c":"Incongruent","t":-100,"v":0.18},{"ch":"PZ","c":"Incongruent","t":-75,"v":0.12},{"ch":"PZ","c":"Incongruent","t":-50,"v":0.05},{"ch":"PZ","c":"Incongruent","t":-25,"v":0.0},{"ch":"PZ","c":"Incongruent","t":0,"v":-0.05},{"ch":"PZ","c":"Incongruent","t":25,"v":-0.12},{"ch":"PZ","c":"Incongruent","t":50,"v":-0.25},{"ch":"PZ","c":"Incongruent","t":75,"v":-0.45},{"ch":"PZ","c":"Incongruent","t":100,"v":-0.65},{"ch":"PZ","c":"Incongruent","t":125,"v":-0.8},{"ch":"PZ","c":"Incongruent","t":150,"v":-0.95},{"ch":"PZ","c":"Incongruent","t":175,"v":-1.05},{"ch":"PZ","c":"Incongruent","t":190,"v":-1.1},{"ch":"PZ","c":"Incongruent","t":200,"v":-1.1},{"ch":"PZ","c":"Incongruent","t":215,"v":-1.0},{"ch":"PZ","c":"Incongruent","t":240,"v":-0.6},{"ch":"PZ","c":"Incongruent","t":260,"v":-0.1},{"ch":"PZ","c":"Incongruent","t":280,"v":0.4},{"ch":"PZ","c":"Incongruent","t":300,"v":0.95},{"ch":"PZ","c":"Incongruent","t":325,"v":1.5},{"ch":"PZ","c":"Incongruent","t":350,"v":1.9},{"ch":"PZ","c":"Incongruent","t":375,"v":2.1},{"ch":"PZ","c":"Incongruent","t":400,"v":2.25},{"ch":"PZ","c":"Incongruent","t":425,"v":2.45},{"ch":"PZ","c":"Incongruent","t":450,"v":2.65},{"ch":"PZ","c":"Incongruent","t":475,"v":2.8},{"ch":"PZ","c":"Incongruent","t":500,"v":2.85},{"ch":"PZ","c":"Incongruent","t":525,"v":2.8},{"ch":"PZ","c":"Incongruent","t":550,"v":2.65},{"ch":"PZ","c":"Incongruent","t":575,"v":2.4},{"ch":"PZ","c":"Incongruent","t":600,"v":2.0},{"ch":"PZ","c":"Incongruent","t":625,"v":1.55},{"ch":"PZ","c":"Incongruent","t":650,"v":1.1},{"ch":"PZ","c":"Incongruent","t":675,"v":0.8},{"ch":"PZ","c":"Incongruent","t":700,"v":0.55},
      {"ch":"PZ","c":"Neutral","t":-200,"v":0.02},{"ch":"PZ","c":"Neutral","t":-175,"v":-0.05},{"ch":"PZ","c":"Neutral","t":-150,"v":-0.12},{"ch":"PZ","c":"Neutral","t":-125,"v":-0.15},{"ch":"PZ","c":"Neutral","t":-100,"v":-0.17},{"ch":"PZ","c":"Neutral","t":-75,"v":-0.12},{"ch":"PZ","c":"Neutral","t":-50,"v":-0.05},{"ch":"PZ","c":"Neutral","t":-25,"v":0.0},{"ch":"PZ","c":"Neutral","t":0,"v":0.0},{"ch":"PZ","c":"Neutral","t":25,"v":-0.15},{"ch":"PZ","c":"Neutral","t":50,"v":-0.4},{"ch":"PZ","c":"Neutral","t":75,"v":-0.65},{"ch":"PZ","c":"Neutral","t":100,"v":-0.85},{"ch":"PZ","c":"Neutral","t":125,"v":-1.0},{"ch":"PZ","c":"Neutral","t":150,"v":-1.12},{"ch":"PZ","c":"Neutral","t":175,"v":-1.22},{"ch":"PZ","c":"Neutral","t":195,"v":-1.25},{"ch":"PZ","c":"Neutral","t":215,"v":-1.15},{"ch":"PZ","c":"Neutral","t":240,"v":-0.8},{"ch":"PZ","c":"Neutral","t":260,"v":-0.2},{"ch":"PZ","c":"Neutral","t":280,"v":0.4},{"ch":"PZ","c":"Neutral","t":300,"v":1.2},{"ch":"PZ","c":"Neutral","t":325,"v":1.9},{"ch":"PZ","c":"Neutral","t":350,"v":2.5},{"ch":"PZ","c":"Neutral","t":375,"v":3.0},{"ch":"PZ","c":"Neutral","t":400,"v":3.35},{"ch":"PZ","c":"Neutral","t":425,"v":3.6},{"ch":"PZ","c":"Neutral","t":450,"v":3.68},{"ch":"PZ","c":"Neutral","t":475,"v":3.6},{"ch":"PZ","c":"Neutral","t":500,"v":3.3},{"ch":"PZ","c":"Neutral","t":525,"v":2.85},{"ch":"PZ","c":"Neutral","t":550,"v":2.35},{"ch":"PZ","c":"Neutral","t":575,"v":1.85},{"ch":"PZ","c":"Neutral","t":600,"v":1.45},{"ch":"PZ","c":"Neutral","t":625,"v":1.15},{"ch":"PZ","c":"Neutral","t":650,"v":0.85},{"ch":"PZ","c":"Neutral","t":675,"v":0.5},{"ch":"PZ","c":"Neutral","t":700,"v":0.15}
    ]
  },
  "data": {"name": "erp"},
  "facet": {
    "column": {
      "field": "ch", "type": "nominal", "sort": ["FZ", "FCZ", "CZ", "CPZ", "PZ"],
      "header": {"title": null, "labelFontSize": 17, "labelFontWeight": "bold", "labelFont": "Liberation Sans", "labelColor": "#000", "labelPadding": 0}
    }
  },
  "spacing": 40,
  "resolve": {"axis": {"y": "independent", "x": "independent"}},
  "spec": {
    "width": 203,
    "height": 372,
    "layer": [
      {
        "transform": [{"filter": "datum.c == 'Congruent' && datum.t == 0"}],
        "mark": {"type": "rule", "color": "#000", "strokeWidth": 1.3, "strokeDash": [5, 4]},
        "encoding": {"x": {"datum": 0, "type": "quantitative", "axis": {"orient": "top", "labels": false, "title": null}}}
      },
      {
        "transform": [{"filter": "datum.c == 'Congruent' && datum.t == 0"}],
        "mark": {"type": "rule", "color": "#000", "strokeWidth": 1.3, "strokeDash": [5, 4]},
        "encoding": {"y": {"datum": 0, "type": "quantitative", "axis": {"orient": "right", "labels": false, "title": null}}}
      },
      {
        "mark": {"type": "line", "strokeWidth": 2.7, "interpolate": "monotone", "clip": true},
        "encoding": {
          "x": {"field": "t", "type": "quantitative", "scale": {"domain": [-200, 700], "nice": false, "zero": false},
                "axis": {"orient": "bottom", "title": "Time [ms]", "values": [-200, 0, 200, 400, 600], "labelPadding": 9, "titlePadding": 6,
                         "labelExpr": "datum.value < 0 ? '-' + abs(datum.value) : '' + datum.value"}},
          "y": {"field": "v", "type": "quantitative", "scale": {"domain": [-4.5, 4.5], "reverse": true, "nice": false, "zero": false},
                "axis": {"orient": "left", "title": "μV", "values": [-4, -3, -2, -1, 0, 1, 2, 3, 4], "labelPadding": 4, "titlePadding": 0,
                         "labelExpr": "datum.value < 0 ? '-' + abs(datum.value) : '' + datum.value"}},
          "color": {"field": "c", "type": "nominal", "title": null,
                    "scale": {"domain": ["Congruent", "Incongruent", "Neutral"], "range": ["#0072BD", "#D95319", "#EDB120"]}},
          "strokeDash": {"field": "c", "type": "nominal", "title": null,
                    "scale": {"domain": ["Congruent", "Incongruent", "Neutral"], "range": [[1, 0], [10, 6], [9, 4, 3, 4]]}},
          "detail": {"field": "c"}
        }
      }
    ]
  },
  "config": {
    "font": "Liberation Sans",
    "view": {"stroke": "#555", "strokeWidth": 1},
    "axis": {
      "grid": false, "domain": false, "ticks": true, "tickSize": -4, "tickColor": "#555", "labelFlush": false,
      "labelFont": "Liberation Sans", "labelFontSize": 13, "labelColor": "#111",
      "titleFont": "Liberation Sans", "titleFontSize": 14, "titleFontWeight": "normal", "titleColor": "#111"
    },
    "legend": {
      "orient": "none", "legendX": 1153, "legendY": -93,
      "strokeColor": "#888", "fillColor": "white", "padding": 3, "rowPadding": 4,
      "symbolType": "M-3.71,0H3.71", "symbolSize": 196, "symbolStrokeWidth": 3, "symbolOffset": 21,
      "labelFont": "Liberation Sans", "labelFontSize": 13, "labelColor": "#000", "labelOffset": 24,
      "cornerRadius": 0
    }
  }
}
